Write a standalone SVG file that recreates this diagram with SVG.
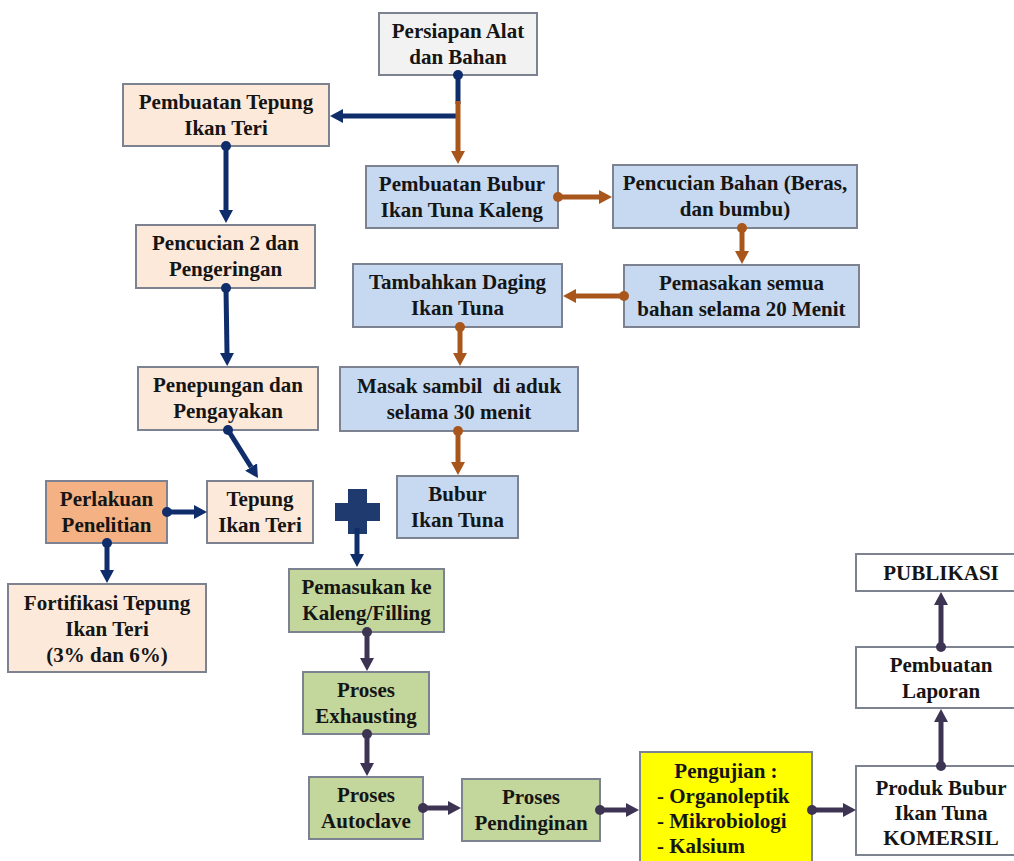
<svg xmlns="http://www.w3.org/2000/svg" width="1014" height="861" viewBox="0 0 1014 861">
<style>
.b{stroke:#7d8291;stroke-width:2}
.grey{fill:#f2f2f2}
.peach{fill:#fce9da}
.blue{fill:#c6d9f1}
.green{fill:#c3d69b}
.orange{fill:#f4b183}
.yellow{fill:#ffff00}
.white{fill:#ffffff}
text{font-family:"Liberation Serif","Times New Roman",serif;font-weight:bold;font-size:21px;fill:#151515;text-anchor:middle}
.l{text-anchor:start}
.cn{fill:none;stroke-width:5}
.nv{stroke:#0f2c6b}
.br{stroke:#a8561c}
.pu{stroke:#3d3453}
</style>
<defs>
<marker id="an" viewBox="0 0 13 14" refX="0" refY="7" markerWidth="13" markerHeight="14" markerUnits="userSpaceOnUse" orient="auto"><path d="M0,0 L13,7 L0,14 z" fill="#0f2c6b"/></marker>
<marker id="ab" viewBox="0 0 13 14" refX="0" refY="7" markerWidth="13" markerHeight="14" markerUnits="userSpaceOnUse" orient="auto"><path d="M0,0 L13,7 L0,14 z" fill="#a8561c"/></marker>
<marker id="ap" viewBox="0 0 13 14" refX="0" refY="7" markerWidth="13" markerHeight="14" markerUnits="userSpaceOnUse" orient="auto"><path d="M0,0 L13,7 L0,14 z" fill="#3d3453"/></marker>
<marker id="dn" viewBox="0 0 10 10" refX="5" refY="5" markerWidth="10" markerHeight="10" markerUnits="userSpaceOnUse"><circle cx="5" cy="5" r="5" fill="#0f2c6b"/></marker>
<marker id="db" viewBox="0 0 10 10" refX="5" refY="5" markerWidth="10" markerHeight="10" markerUnits="userSpaceOnUse"><circle cx="5" cy="5" r="5" fill="#a8561c"/></marker>
<marker id="dp" viewBox="0 0 10 10" refX="5" refY="5" markerWidth="10" markerHeight="10" markerUnits="userSpaceOnUse"><circle cx="5" cy="5" r="5" fill="#3d3453"/></marker>
</defs>
<rect width="1014" height="861" fill="#ffffff"/>

<g id="persiapan"><rect class="b grey" x="379" y="13" width="158" height="62"/><text x="458" y="38">Persiapan Alat</text><text x="458" y="64">dan Bahan</text></g>
<g id="pembuatan-tepung"><rect class="b peach" x="123" y="84" width="206" height="62"/><text x="226" y="109">Pembuatan Tepung</text><text x="226" y="135">Ikan Teri</text></g>
<g id="pencucian2"><rect class="b peach" x="136" y="225" width="179" height="63"/><text x="225.5" y="250">Pencucian 2 dan</text><text x="225.5" y="276">Pengeringan</text></g>
<g id="penepungan"><rect class="b peach" x="138" y="367" width="180" height="63"/><text x="228" y="392">Penepungan dan</text><text x="228" y="418">Pengayakan</text></g>
<g id="perlakuan"><rect class="b orange" x="46" y="481" width="121" height="62"/><text x="106.5" y="506">Perlakuan</text><text x="106.5" y="532">Penelitian</text></g>
<g id="tepung-ikan-teri"><rect class="b peach" x="207" y="481" width="106" height="62"/><text x="260" y="506">Tepung</text><text x="260" y="532">Ikan Teri</text></g>
<g id="fortifikasi"><rect class="b peach" x="8" y="584" width="198" height="88"/><text x="107" y="610">Fortifikasi Tepung</text><text x="107" y="636">Ikan Teri</text><text x="107" y="662">(3% dan 6%)</text></g>

<g id="pembuatan-bubur"><rect class="b blue" x="366" y="166" width="192" height="62"/><text x="462" y="191">Pembuatan Bubur</text><text x="462" y="217">Ikan Tuna Kaleng</text></g>
<g id="pencucian-bahan"><rect class="b blue" x="613" y="165" width="244" height="63"/><text x="735" y="190">Pencucian Bahan (Beras,</text><text x="735" y="216">dan bumbu)</text></g>
<g id="pemasakan"><rect class="b blue" x="624" y="265" width="235" height="62"/><text x="741.5" y="290">Pemasakan semua</text><text x="741.5" y="316">bahan selama 20 Menit</text></g>
<g id="tambahkan"><rect class="b blue" x="353" y="264" width="209" height="63"/><text x="457.5" y="289">Tambahkan Daging</text><text x="457.5" y="315">Ikan Tuna</text></g>
<g id="masak"><rect class="b blue" x="340" y="367" width="238" height="64"/><text x="459" y="393" xml:space="preserve">Masak sambil  di aduk</text><text x="459" y="419">selama 30 menit</text></g>
<g id="bubur-ikan-tuna"><rect class="b blue" x="397" y="476" width="121" height="62"/><text x="457.5" y="501">Bubur</text><text x="457.5" y="527">Ikan Tuna</text></g>

<g id="plus"><path d="M348,489 H367 V503 H380 V521 H367 V534 H348 V521 H335 V503 H348 Z" fill="#1e3a6e"/></g>

<g id="pemasukan"><rect class="b green" x="289" y="569" width="155" height="63"/><text x="366.5" y="594">Pemasukan ke</text><text x="366.5" y="620">Kaleng/Filling</text></g>
<g id="exhausting"><rect class="b green" x="303" y="672" width="126" height="62"/><text x="366" y="697">Proses</text><text x="366" y="723">Exhausting</text></g>
<g id="autoclave"><rect class="b green" x="309" y="777" width="114" height="62"/><text x="366" y="802">Proses</text><text x="366" y="828">Autoclave</text></g>
<g id="pendinginan"><rect class="b green" x="462" y="779" width="138" height="62"/><text x="531" y="804">Proses</text><text x="531" y="830">Pendinginan</text></g>
<g id="pengujian"><rect class="b yellow" x="640" y="752" width="172" height="115"/><text x="726" y="778">Pengujian :</text><text class="l" x="657" y="803">- Organoleptik</text><text class="l" x="657" y="828">- Mikrobiologi</text><text class="l" x="657" y="853">- Kalsium</text></g>
<g id="produk"><rect class="b white" x="856" y="766" width="162" height="89"/><text x="941" y="795">Produk Bubur</text><text x="941" y="820">Ikan Tuna</text><text x="941" y="845">KOMERSIL</text></g>
<g id="laporan"><rect class="b white" x="856" y="647" width="162" height="61"/><text x="941" y="672">Pembuatan</text><text x="941" y="698">Laporan</text></g>
<g id="publikasi"><rect class="b white" x="856" y="554" width="162" height="37"/><text x="941" y="580">PUBLIKASI</text></g>

<g id="connectors">
<path class="cn nv" d="M458,75 V104" marker-start="url(#dn)"/>
<path class="cn nv" d="M457,116 H343" marker-end="url(#an)"/>
<path class="cn br" d="M458,101 V151" marker-end="url(#ab)"/>
<path class="cn nv" d="M226,146 V210" marker-start="url(#dn)" marker-end="url(#an)"/>
<path class="cn nv" d="M226,288 L227,353" marker-start="url(#dn)" marker-end="url(#an)"/>
<path class="cn nv" d="M228,430 L251.1,467" marker-start="url(#dn)" marker-end="url(#an)"/>
<path class="cn nv" d="M167,512 H194" marker-start="url(#dn)" marker-end="url(#an)"/>
<path class="cn nv" d="M107,543 V570" marker-start="url(#dn)" marker-end="url(#an)"/>
<path class="cn nv" d="M357,528 V554" marker-end="url(#an)"/>
<path class="cn br" d="M558,197 H599" marker-start="url(#db)" marker-end="url(#ab)"/>
<path class="cn br" d="M742,228 V251" marker-start="url(#db)" marker-end="url(#ab)"/>
<path class="cn br" d="M624,296 H576" marker-start="url(#db)" marker-end="url(#ab)"/>
<path class="cn br" d="M460,327 V353" marker-start="url(#db)" marker-end="url(#ab)"/>
<path class="cn br" d="M458,431 V462" marker-start="url(#db)" marker-end="url(#ab)"/>
<path class="cn pu" d="M367,632 V658" marker-start="url(#dp)" marker-end="url(#ap)"/>
<path class="cn pu" d="M367,734 V763" marker-start="url(#dp)" marker-end="url(#ap)"/>
<path class="cn pu" d="M423,808 H448" marker-start="url(#dp)" marker-end="url(#ap)"/>
<path class="cn pu" d="M600,810 H626" marker-start="url(#dp)" marker-end="url(#ap)"/>
<path class="cn pu" d="M812,810 H843" marker-start="url(#dp)" marker-end="url(#ap)"/>
<path class="cn pu" d="M941,766 V722" marker-start="url(#dp)" marker-end="url(#ap)"/>
<path class="cn pu" d="M941,647 V605" marker-start="url(#dp)" marker-end="url(#ap)"/>
</g>
</svg>
